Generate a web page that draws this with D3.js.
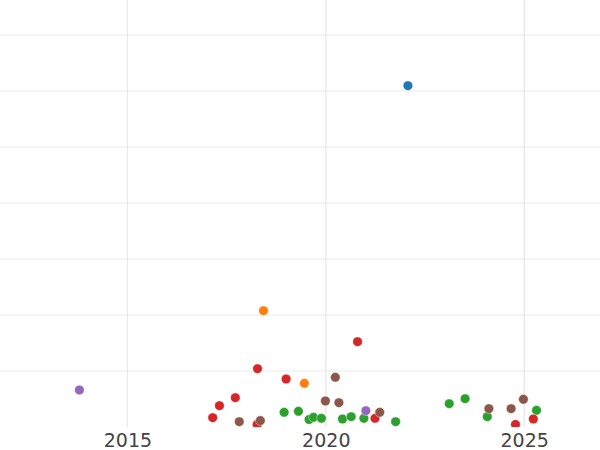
<!DOCTYPE html>
<html>
<head>
<meta charset="utf-8">
<script src="https://cdn.jsdelivr.net/npm/d3@7"></script>
<style>
  html, body { margin: 0; padding: 0; background: #fff; }
  svg { display: block; }
</style>
</head>
<body>
<div id="chart"></div>
<script>
// ---- data (year, value) per series ----
const seriesNames = ["blue", "orange", "green", "red", "purple", "brown"];
const seriesColors = ["#1f77b4", "#ff7f0e", "#2ca02c", "#d62728", "#9467bd", "#8c564b"];

const blueYears = [2022.07];
const blueValues = [60.95];

const orangeYears = [2018.43, 2019.46];
const orangeValues = [20.77, 7.80];

const greenYears = [2018.95, 2019.31, 2019.58, 2019.69, 2019.89, 2020.42, 2020.64, 2020.96, 2021.76, 2023.11, 2023.51, 2024.07, 2025.31];
const greenValues = [2.63, 2.80, 1.34, 1.73, 1.55, 1.43, 1.84, 1.55, 0.95, 4.16, 5.05, 1.84, 2.98];

const redYears = [2017.15, 2017.32, 2017.72, 2018.27, 2018.28, 2019.00, 2020.80, 2021.24, 2024.78, 2025.23];
const redValues = [1.66, 3.80, 5.23, 0.45, 10.41, 8.57, 15.23, 1.55, 0.45, 1.43];

const purpleYears = [2013.79, 2021.01];
const purpleValues = [6.61, 2.91];

const brownYears = [2017.82, 2018.35, 2019.99, 2020.24, 2020.33, 2021.36, 2024.11, 2024.67, 2024.98];
const brownValues = [0.95, 1.13, 4.64, 8.88, 4.34, 2.63, 3.27, 3.27, 4.95];

const xTicks = [2015, 2020, 2025];
const xTickLabels = ["2015", "2020", "2025"];
const yTicks = [10, 20, 30, 40, 50, 60, 70];

const xDomain = [2011.79, 2026.91];
const yDomain = [0, 76.25];

// ---- layout ----
const W = 600, H = 450;
const plot = { left: 0, top: 0, right: 600, bottom: 427 };

const x = d3.scaleLinear().domain(xDomain).range([plot.left, plot.right]);
const y = d3.scaleLinear().domain(yDomain).range([plot.bottom, plot.top]);

const svg = d3.select("#chart").append("svg")
  .attr("width", W).attr("height", H)
  .style("font-family", "'DejaVu Sans', sans-serif");

svg.append("defs").append("clipPath").attr("id", "plotclip")
  .append("rect")
  .attr("x", plot.left).attr("y", plot.top)
  .attr("width", plot.right - plot.left).attr("height", plot.bottom - plot.top);

// gridlines
const grid = svg.append("g").attr("class", "grid");
grid.selectAll("line.h").data(yTicks).join("line")
  .attr("class", "h")
  .attr("x1", plot.left).attr("x2", plot.right)
  .attr("y1", d => y(d)).attr("y2", d => y(d))
  .attr("stroke", "#ebebeb").attr("stroke-width", 1);
grid.selectAll("line.v").data(xTicks).join("line")
  .attr("class", "v")
  .attr("y1", plot.top).attr("y2", plot.bottom)
  .attr("x1", d => x(d)).attr("x2", d => x(d))
  .attr("stroke", "#ebebeb").attr("stroke-width", 1.5);

// x axis labels (via d3 axis, no domain/tick lines)
const xAxis = d3.axisBottom(x).tickValues(xTicks)
  .tickFormat((d, i) => xTickLabels[i]).tickSize(0).tickPadding(0);
const ax = svg.append("g").attr("transform", `translate(0,${plot.bottom})`).call(xAxis);
ax.select(".domain").remove();
ax.selectAll("text")
  .attr("dy", null).attr("y", 20)
  .attr("fill", "#444").style("font-size", "19px")
  .style("font-family", "'DejaVu Sans', sans-serif");

// points
const allSeries = [
  [blueYears, blueValues],
  [orangeYears, orangeValues],
  [greenYears, greenValues],
  [redYears, redValues],
  [purpleYears, purpleValues],
  [brownYears, brownValues]
];
const pts = svg.append("g").attr("clip-path", "url(#plotclip)");
allSeries.forEach(([xs, ys], si) => {
  const data = xs.map((v, i) => ({ x: v, y: ys[i] }));
  pts.append("g").attr("class", "series-" + seriesNames[si])
    .selectAll("circle").data(data).join("circle")
    .attr("cx", d => x(d.x)).attr("cy", d => y(d.y))
    .attr("r", 4.8)
    .attr("fill", seriesColors[si])
    .attr("stroke", "#fff").attr("stroke-width", 0.4);
});
</script>
</body>
</html>
